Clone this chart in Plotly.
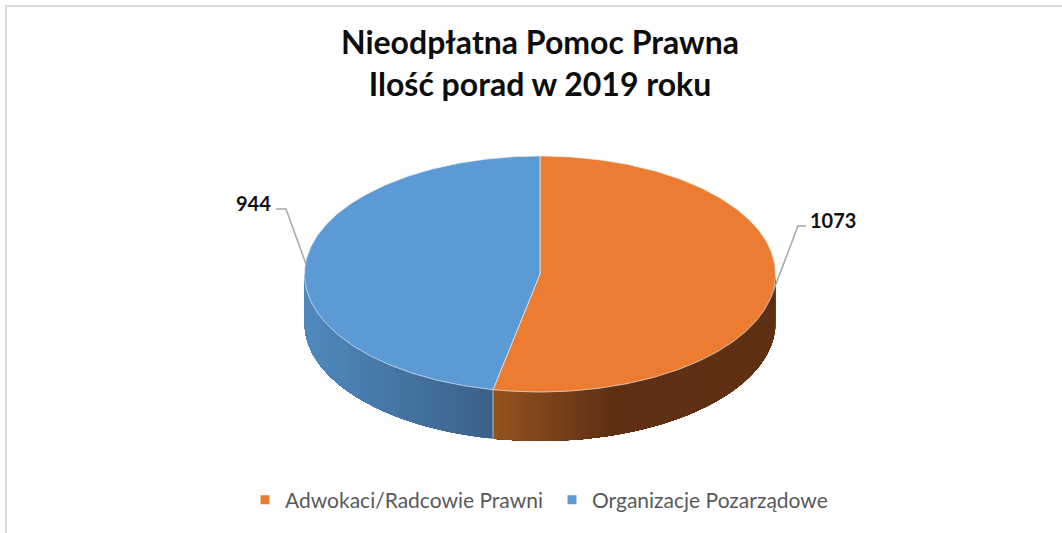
import numpy as np
import plotly.graph_objects as go

categories = ["Adwokaci/Radcowie Prawni", "Organizacje Pozarządowe"]
values = [1073, 944]
title_lines = ["Nieodpłatna Pomoc Prawna", "Ilość porad w 2019 roku"]

W, H = 1062, 533
CX, CY, RX, RY, DEPTH = 540.0, 274.0, 235.5, 118.0, 49.0
TOP = ["#EB7C32", "#5B9AD5"]
FONT = "Lato"


def rim(theta_deg):
    t = np.radians(theta_deg)
    return CX + RX * np.sin(t), CY - RY * np.cos(t)


def mix(a, b, f):
    a = [int(a[i:i + 2], 16) for i in (1, 3, 5)]
    b = [int(b[i:i + 2], 16) for i in (1, 3, 5)]
    return "rgb(%d,%d,%d)" % tuple(round(p + (q - p) * f) for p, q in zip(a, b))


fig = go.Figure()
shares = np.array(values) / sum(values) * 360
split = shares[0]


# side wall: overlapping pieces, each painted over the previous, shaded across x
def wall(t0, t1, colour_at):
    edges = np.arange(t0, t1, 0.75)
    for a in edges:
        th = np.linspace(a, t1, 80)
        x, y = rim(th)
        xs = np.r_[x, x[::-1], x[0]]
        ys = np.r_[y, y[::-1] + DEPTH, y[0]]
        c = colour_at(rim(a + 0.375)[0])
        fig.add_trace(go.Scatter(x=xs, y=ys, mode="lines", fill="toself", fillcolor=c,
                                 line=dict(color=c, width=0), hoverinfo="skip",
                                 showlegend=False))


split_x = rim(split)[0]


def orange_wall(x):
    f = np.clip((x - split_x) / (612 - split_x), 0, 1)
    return mix("#95531F", "#5F3013", f)


def blue_wall(x):
    f = np.clip((x - 305) / (split_x - 305), 0, 1)
    return mix("#5089BE", "#396188", f)


wall(90, split, orange_wall)
wall(split, 270, blue_wall)
xs, ys = rim(split)
fig.add_trace(go.Scatter(x=[xs, xs], y=[ys, ys + DEPTH], mode="lines",
                         line=dict(color="rgba(220,225,230,0.7)", width=1),
                         hoverinfo="skip", showlegend=False))

# top face slices (these also carry the legend entries)
starts = [0, split]
for name, share, start, col in zip(categories, shares, starts, TOP):
    th = np.linspace(start, start + share, 240)
    x, y = rim(th)
    fig.add_trace(go.Scatter(x=np.r_[CX, x, CX], y=np.r_[CY, y, CY], mode="lines", fill="toself",
                             fillcolor=col, line=dict(color="rgba(235,235,235,0.7)", width=1),
                             hoverinfo="skip", showlegend=False))
    fig.add_trace(go.Scatter(x=[None], y=[None], mode="markers", name=name,
                             marker=dict(symbol="square", size=9, color=col)))

# leader lines
for lx, ly in (([276, 286, 306], [209, 209, 264]), ([806, 798, 771], [226, 226, 297])):
    fig.add_trace(go.Scatter(x=lx, y=ly, mode="lines", line=dict(color="#A6A6A6", width=1.5),
                             hoverinfo="skip", showlegend=False))

fig.add_annotation(x=273, y=203, text=f"<b>{values[1]}</b>", showarrow=False, xanchor="right", yanchor="middle",
                   font=dict(family=FONT, size=20, color="#111111"))
fig.add_annotation(x=808, y=220, text=f"<b>{values[0]}</b>", showarrow=False, xanchor="left", yanchor="middle",
                   font=dict(family=FONT, size=20, color="#111111"))

fig.update_layout(
    width=W, height=H, margin=dict(l=0, r=0, t=0, b=0), autosize=False,
    paper_bgcolor="white", plot_bgcolor="white",
    title=dict(text="<b>" + "<br>".join(title_lines) + "</b>", x=540 / W, xanchor="center",
               y=1 - 54 / H, yanchor="top", font=dict(family=FONT, size=32, color="#0D0D0D")),
    xaxis=dict(range=[0, W], visible=False, fixedrange=True),
    yaxis=dict(range=[H, 0], visible=False, fixedrange=True),
    legend=dict(orientation="h", x=245 / W, y=1 - 500 / H, xanchor="left", yanchor="middle",
                font=dict(family=FONT, size=21, color="#595959"), entrywidth=262, entrywidthmode="pixels",
                itemwidth=30, bgcolor="rgba(0,0,0,0)"),
    shapes=[
        dict(type="line", xref="x", yref="y", x0=6, x1=W, y0=6, y1=6, line=dict(color="#DCDCDC", width=2)),
        dict(type="line", xref="x", yref="y", x0=6, x1=6, y0=5, y1=H, line=dict(color="#DCDCDC", width=2)),
    ],
)

fig.write_html("out.html", config=dict(displayModeBar=False),
               post_script="document.body.style.margin='0';document.body.style.overflow='hidden';")
